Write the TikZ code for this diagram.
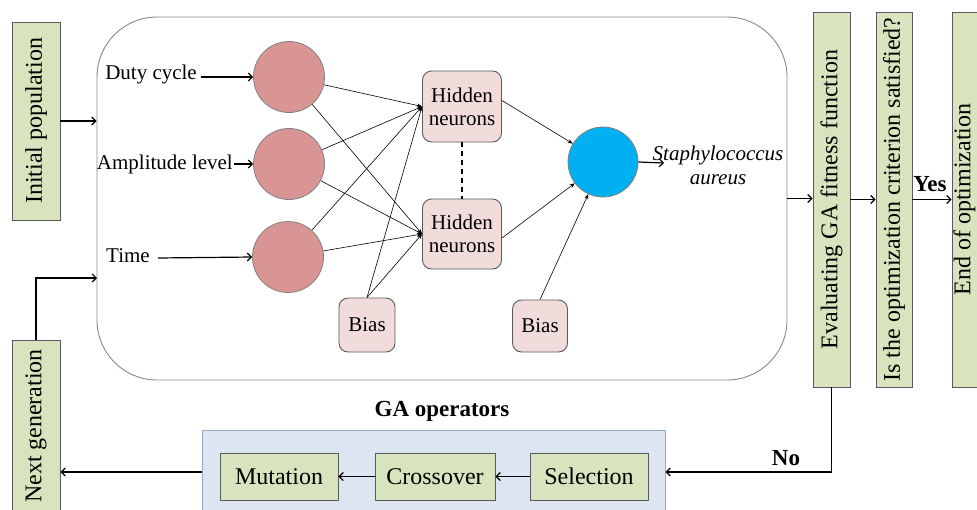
\documentclass[tikz,border=0pt]{standalone}
\usepackage{fontspec}
\setmainfont{Liberation Serif}
\newfontfamily\tnr{Liberation Serif}
\usetikzlibrary{arrows.meta}
\definecolor{gfill}{HTML}{D7E4BD}
\definecolor{gdraw}{HTML}{5A5A5A}
\definecolor{pinkfill}{HTML}{F2DCDB}
\definecolor{infill}{HTML}{D99594}
\definecolor{outfill}{HTML}{00B0F0}
\definecolor{opfill}{HTML}{DCE6F2}
\definecolor{opdraw}{HTML}{95A9C0}
\definecolor{netdraw}{HTML}{7F8C97}
\begin{document}
\begin{tikzpicture}[x=1pt,y=-1pt,
 gbox/.style={draw=gdraw, fill=gfill, line width=0.9pt, inner sep=0pt, font=\tnr\fontsize{24}{28}\selectfont},
 hbox/.style={draw=gdraw, fill=pinkfill, rounded corners=9pt, line width=0.9pt, inner sep=0pt, align=center, font=\tnr\fontsize{21}{23}\selectfont},
 incirc/.style={circle, draw=gray, line width=0.8pt, fill=infill, minimum size=71pt, inner sep=0pt},
 conn/.style={line width=0.6pt, -{Stealth[length=5pt,width=4pt]}},
 flow/.style={line width=1.2pt, -{Straight Barb[length=4pt,width=8pt]}},
 lbl/.style={font=\tnr\fontsize{21}{24}\selectfont, inner sep=0pt},
 blbl/.style={font=\tnr\fontsize{23}{26}\selectfont\bfseries, inner sep=0pt},
]
\clip (0,0) rectangle (977,509);
\fill[white] (0,0) rectangle (977,509);

% network frame
\node[draw=netdraw, rounded corners=60pt, minimum width=690pt, minimum height=363pt, line width=0.9pt] (net) at (442,198.5) {};

% inputs
\node[incirc] (i1) at (289,77) {};
\node[incirc] (i2) at (289,164) {};
\node[incirc] (i3) at (288,257) {};
\node[lbl, anchor=east] (l1) at (197,74) {Duty cycle};
\node[lbl, anchor=east] (l2) at (233,164) {Amplitude level};
\node[lbl, anchor=east] (l3) at (150,256) {Time};
\draw[flow] ([xshift=4pt,yshift=-3pt]l1.east) -- (i1.west);
\draw[flow] ([xshift=1pt]l2.east) -- (i2.west);
\draw[flow] ([xshift=8pt,yshift=-2pt]l3.east) -- (i3.west);

% hidden + bias
\node[hbox, minimum width=79pt, minimum height=71pt] (h1) at (462,106.5) {Hidden\\neurons};
\node[hbox, minimum width=79pt, minimum height=70pt] (h2) at (462,234) {Hidden\\neurons};
\node[hbox, minimum width=56pt, minimum height=54pt] (b1) at (367,325) {Bias};
\node[hbox, minimum width=55pt, minimum height=52pt] (b2) at (540,326) {Bias};
\node[circle, draw=gray, line width=0.8pt, fill=outfill, minimum size=70pt, inner sep=0pt] (o) at (603,162) {};

\foreach \i in {i1,i2,i3}{
  \foreach \h in {h1,h2}{
    \draw[conn] (\i) -- (\h.west);
  }
}
\draw[conn] (b1.north) -- (h1.west);
\draw[conn] (b1.north) -- (h2.west);
\draw[dashed, line width=1.2pt, dash pattern=on 5pt off 4pt] (h1.south) -- (h2.north);
\draw[conn] ([yshift=6pt]h1.east) -- (o);
\draw[conn] ([yshift=-4pt]h2.east) -- (o);
\draw[conn] (b2.north) -- (o);

\node[lbl, font=\tnr\fontsize{21}{24}\selectfont\itshape, align=center] (sa) at (718,165) {Staphylococcus\\aureus};
\coordinate (sae) at (664,163);
\draw[flow] (o.east) -- (sae);

% left column
\node[gbox, minimum width=48pt, minimum height=198pt] (ip) at (36,121) {\rotatebox{90}{Initial population}};
\node[gbox, minimum width=48pt, minimum height=172pt] (ng) at (36,426) {\rotatebox{90}{Next generation}};
\draw[flow] (ip.east) -- (ip.east -| net.west);
\coordinate (nin) at (97,278);
\draw[flow] (ng.north) |- (nin);

% right column
\node[gbox, minimum width=37pt, minimum height=375pt] (ev) at (831.5,199.5) {\rotatebox{90}{Evaluating GA fitness function}};
\node[gbox, minimum width=36pt, minimum height=375pt] (is) at (894,199.5) {\rotatebox{90}{Is the optimization criterion satisfied?}};
\node[gbox, minimum width=37pt, minimum height=375pt] (end) at (970.5,199.5) {\rotatebox{90}{End of optimization}\hspace*{12pt}};
\draw[flow] (net.east) -- (net.east -| ev.west);
\draw[flow] (ev.east) -- (is.west);
\draw[flow] (is.east) -- (end.west);
\node[blbl] (yes) at (930,184) {Yes};

% GA operators
\node[draw=opdraw, fill=opfill, minimum width=463pt, minimum height=84pt, line width=0.9pt] (ga) at (433.5,472) {};
\node[blbl] (gal) at (442,411) {GA operators};
\node[gbox, minimum width=118pt, minimum height=47pt] (mut) at (279,476.5) {Mutation};
\node[gbox, minimum width=120pt, minimum height=47pt] (cro) at (435,476.5) {Crossover};
\node[gbox, minimum width=118pt, minimum height=47pt] (sel) at (589,476.5) {Selection};
\draw[flow] (sel.west) -- (cro.east);
\draw[flow] (cro.west) -- (mut.east);
\draw[flow] (ev.south) |- (ga.east);
\node[blbl] (no) at (786,458) {No};
\draw[flow] (ga.west) -- (ga.west -| ng.east);
\end{tikzpicture}
\end{document}
